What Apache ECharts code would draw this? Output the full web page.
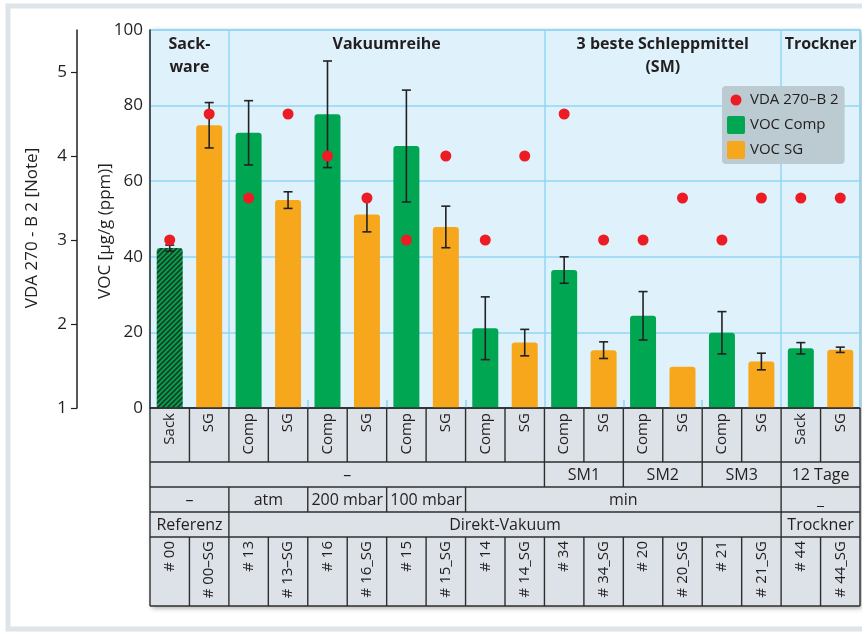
<!DOCTYPE html>
<html><head><meta charset="utf-8">
<script src="https://cdn.jsdelivr.net/npm/echarts@6/dist/echarts.min.js"></script>
<style>html,body{margin:0;padding:0;background:#fff}#c{width:862px;height:632px}</style>
</head><body><div id="c"></div>
<script>
// ---- data ----
const types = ['Sack','SG','Comp','SG','Comp','SG','Comp','SG','Comp','SG','Comp','SG','Comp','SG','Comp','SG','Sack','SG'];
const sampleIds = ['# 00','# 00–SG','# 13','# 13–SG','# 16','# 16_SG','# 15','# 15_SG','# 14','# 14_SG','# 34','# 34_SG','# 20','# 20_SG','# 21','# 21_SG','# 44','# 44_SG'];
const vocComp = [42.3, null, 72.8, null, 77.7, null, 69.3, null, 21.1, null, 36.5, null, 24.4, null, 19.9, null, 15.8, null];
const vocSG   = [null, 74.8, null, 55.0, null, 51.2, null, 47.9, null, 17.3, null, 15.3, null, 10.9, null, 12.3, null, 15.4];
const vocErr  = [0.8, 6.0, 8.5, 2.2, 14.1, 4.6, 14.8, 5.5, 8.3, 3.5, 3.5, 2.2, 6.4, null, 5.6, 2.2, 1.5, 0.7];
const vdaNote = [3, 4.5, 3.5, 4.5, 4, 3.5, 3, 4, 3, 4, 4.5, 3, 3, 3.5, 3, 3.5, 3.5, 3.5];
const noteTicks = [1, 2, 3, 4, 5];
const groupHeaders = [['Sack-\nware',0,1],['Vakuumreihe',2,9],['3 beste Schleppmittel\n(SM)',10,15],['Trockner',16,17]];
const rowSM = [['–',0,9],['SM1',10,11],['SM2',12,13],['SM3',14,15],['12 Tage',16,17]];
const rowPressure = [['–',0,1],['atm',2,3],['200 mbar',4,5],['100 mbar',6,7],['min',8,15],['_',16,17]];
const rowMethod = [['Referenz',0,1],['Direkt-Vakuum',2,15],['Trockner',16,17]];
const groupBreaks = [2, 10, 16];
const pairBreaks = [4, 6, 8, 12, 14];

// ---- styles ----
const FONT = '"Open Sans", "Noto Sans", sans-serif';
const TXT = '#231f20';
const GREEN = '#00a651';
const ORANGE = '#f7a71c';
const RED = '#ed1c24';
const GRIDBLUE = '#8fd6f4';

function hatchPattern(){
  const c = document.createElement('canvas');
  c.width = 5; c.height = 5;
  const g = c.getContext('2d');
  g.fillStyle = GREEN; g.fillRect(0,0,5,5);
  g.strokeStyle = '#1c3b26'; g.lineWidth = 1.7;
  g.beginPath();
  g.moveTo(0,5); g.lineTo(5,0);
  g.moveTo(-1,1); g.lineTo(1,-1);
  g.moveTo(4,6); g.lineTo(6,4);
  g.stroke();
  return c;
}

const compData = vocComp.map((v,i)=> {
  if (v == null) return null;
  if (i === 0) return {value: v, itemStyle: {color: {image: hatchPattern(), repeat: 'repeat'}}};
  return v;
});

const errData = [];
types.forEach((t,i)=>{
  const m = vocComp[i] != null ? vocComp[i] : vocSG[i];
  if (vocErr[i] != null) errData.push([i, m, vocErr[i]]);
});

const chart = echarts.init(document.getElementById('c'), null, {renderer: 'canvas'});
const GL = 150, GR = 2, GT = 30, GB = 224;

chart.setOption({
  animation: false,
  textStyle: {fontFamily: FONT, color: TXT},
  grid: {left: GL, right: GR, top: GT, bottom: GB, show: true, backgroundColor: '#dff2fb', borderColor: GRIDBLUE, borderWidth: 1.5, containLabel: false},
  legend: {
    orient: 'vertical', left: 722, top: 86,
    padding: [5, 6, 5, 5], itemGap: 7, itemWidth: 18, itemHeight: 18,
    backgroundColor: '#bccad2', borderRadius: 4,
    textStyle: {fontSize: 15, color: TXT, fontFamily: FONT},
    itemStyle: {borderWidth: 0, opacity: 1},
    data: [
      {name: 'VDA 270–B 2', icon: 'path://M0,0L0.01,0M18,18L17.99,18M9,3.5A5.5,5.5,0,1,1,8.99,3.5Z'},
      {name: 'VOC Comp', icon: 'path://M2,0L16,0Q18,0,18,2L18,16Q18,18,16,18L2,18Q0,18,0,16L0,2Q0,0,2,0Z'},
      {name: 'VOC SG', icon: 'path://M2,0L16,0Q18,0,18,2L18,16Q18,18,16,18L2,18Q0,18,0,16L0,2Q0,0,2,0Z'}
    ]
  },
  xAxis: [
    {
      type: 'category', data: types, position: 'bottom', boundaryGap: true,
      axisLine: {show: true, lineStyle: {color: '#2b2b2b', width: 1.5}},
      axisTick: {show: true, inside: true, length: 8, interval: (i)=> pairBreaks.includes(i), lineStyle: {color: GRIDBLUE, width: 1.5}},
      splitLine: {show: true, interval: (i)=> groupBreaks.includes(i), lineStyle: {color: GRIDBLUE, width: 1.5}},
      axisLabel: {rotate: 90, margin: 5, fontSize: 15, color: TXT, fontFamily: FONT, interval: 0}
    },
    {
      type: 'category', data: sampleIds, position: 'bottom', offset: 129, boundaryGap: true,
      axisLine: {show: false}, axisTick: {show: false}, splitLine: {show: false},
      axisLabel: {rotate: 90, margin: 4, fontSize: 15, color: TXT, fontFamily: FONT, interval: 0}
    }
  ],
  yAxis: [
    {
      type: 'value', min: 0, max: 100, interval: 20, position: 'left',
      axisLine: {show: true, lineStyle: {color: '#2b2b2b', width: 1.5}},
      axisTick: {show: false},
      splitLine: {show: true, lineStyle: {color: GRIDBLUE, width: 1.5}},
      axisLabel: {fontSize: 17, margin: 7, color: TXT, fontFamily: FONT}
    },
    {
      type: 'value', min: 1, max: 5.5, interval: 1, position: 'left', offset: 73,
      axisLine: {show: true, lineStyle: {color: TXT, width: 1.5}},
      axisTick: {show: true, length: 6, customValues: noteTicks, lineStyle: {color: TXT, width: 1.2}},
      splitLine: {show: false},
      axisLabel: {customValues: noteTicks, fontSize: 17, margin: 10, color: TXT, fontFamily: FONT}
    }
  ],
  series: [
    {
      name: 'VOC Comp', type: 'bar', data: compData, barWidth: 26, barGap: '-100%',
      itemStyle: {color: GREEN, borderRadius: [3,3,0,0]}, z: 2
    },
    {
      name: 'VOC SG', type: 'bar', data: vocSG, barWidth: 26, barGap: '-100%',
      itemStyle: {color: ORANGE, borderRadius: [3,3,0,0]}, z: 2
    },
    {
      name: 'err', type: 'custom', data: errData, z: 3,
      renderItem: function(params, api){
        const i = api.value(0), m = api.value(1), e = api.value(2);
        const top = api.coord([i, m + e]);
        const bot = api.coord([i, m - e]);
        const w = 4.5;
        const st = {stroke: '#222', lineWidth: 1.6};
        return {type: 'group', children: [
          {type: 'line', shape: {x1: top[0], y1: top[1], x2: bot[0], y2: bot[1]}, style: st},
          {type: 'line', shape: {x1: top[0]-w, y1: top[1], x2: top[0]+w, y2: top[1]}, style: st},
          {type: 'line', shape: {x1: bot[0]-w, y1: bot[1], x2: bot[0]+w, y2: bot[1]}, style: st}
        ]};
      }
    },
    {
      name: 'VDA 270–B 2', type: 'scatter', yAxisIndex: 1, data: vdaNote,
      symbol: 'circle', symbolSize: 11, itemStyle: {color: RED, opacity: 1}, z: 5
    }
  ]
});

// ---- table, headers, axis names (positions derived from the category axis) ----
const c0 = chart.convertToPixel({xAxisIndex: 0}, 0);
const c1 = chart.convertToPixel({xAxisIndex: 0}, 1);
const bw = c1 - c0;
const edge = (k)=> c0 + (k - 0.5) * bw;
const X0 = edge(0), X1 = edge(types.length);
const rowY = [408, 462, 487, 512, 537, 606];
const LC = '#2e2e2e';
const g = [];
g.push({type: 'rect', z: -200, shape: {x: 8, y: 6, width: 900, height: 623}, style: {fill: 'none', stroke: '#dde4ea', lineWidth: 5}});
g.push({type: 'rect', z: -60, shape: {x: X0, y: GT - 1, width: X1 - X0, height: rowY[5] - GT + 1},
  style: {fill: '#dde3e8', shadowBlur: 5, shadowOffsetX: 2, shadowOffsetY: 2, shadowColor: 'rgba(0,0,0,0.35)'}});
g.push({type: 'rect', z: -50, shape: {x: X0, y: rowY[0], width: X1 - X0, height: rowY[5] - rowY[0]}, style: {fill: '#dce2e7'}});
rowY.forEach((y)=> g.push({type: 'line', z: 40, shape: {x1: X0, y1: y, x2: X1, y2: y}, style: {stroke: LC, lineWidth: 1.4}}));
function vline(k, y1, y2){ const x = edge(k); g.push({type: 'line', z: 40, shape: {x1: x, y1: y1, x2: x, y2: y2}, style: {stroke: LC, lineWidth: 1.4}}); }
for (let k = 0; k <= types.length; k++){ vline(k, rowY[0], rowY[1]); vline(k, rowY[4], rowY[5]); }
function spanRow(spans, r){
  const y1 = rowY[r], y2 = rowY[r+1];
  vline(0, y1, y2);
  spans.forEach(([txt, a, b])=>{
    vline(b + 1, y1, y2);
    g.push({type: 'text', z: 41, x: (edge(a) + edge(b + 1)) / 2, y: (y1 + y2) / 2 + 1,
      style: {text: txt, fontSize: 16, fontFamily: FONT, fill: TXT, align: 'center', verticalAlign: 'middle'}});
  });
}
spanRow(rowSM, 1);
spanRow(rowPressure, 2);
spanRow(rowMethod, 3);
groupHeaders.forEach(([txt, a, b])=>{
  g.push({type: 'text', z: 41, x: (edge(a) + edge(b + 1)) / 2, y: 33,
    style: {text: txt, fontSize: 16, fontWeight: 'bold', fontFamily: FONT, fill: TXT, align: 'center', verticalAlign: 'top', lineHeight: 23}});
});
g.push({type: 'text', z: 41, x: 32, y: 228, rotation: Math.PI / 2,
  style: {text: 'VDA 270 - B 2 [Note]', fontSize: 17, fontFamily: FONT, fill: TXT, align: 'center', verticalAlign: 'middle'}});
g.push({type: 'text', z: 41, x: 105, y: 231, rotation: Math.PI / 2,
  style: {text: 'VOC [µg/g (ppm)]', fontSize: 17, fontFamily: FONT, fill: TXT, align: 'center', verticalAlign: 'middle'}});

chart.setOption({graphic: g});
</script>
</body></html>
